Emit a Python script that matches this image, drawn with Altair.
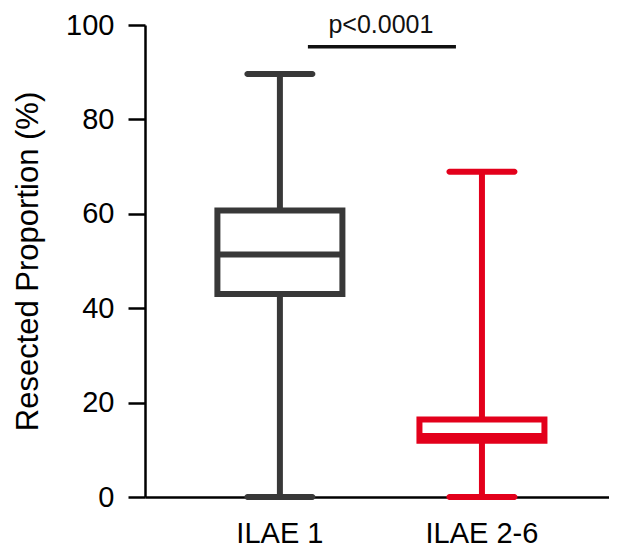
import altair as alt
import pandas as pd

groups = ["ILAE 1", "ILAE 2-6"]
mins = [0.0, 0.0]
q1s = [43.0, 11.9]
medians = [51.4, 12.9]
q3s = [60.7, 16.4]
maxs = [89.6, 68.9]
colors = ["#383838", "#e3001b"]

sig_start = ["ILAE 1"]
sig_end = ["ILAE 2-6"]
sig_y = [95.4]
sig_label = ["p<0.0001"]

y_ticks = [0, 20, 40, 60, 80, 100]

FONT = "Liberation Sans"

df = pd.DataFrame({"group": groups, "min": mins, "q1": q1s, "median": medians,
                   "q3": q3s, "max": maxs})
ann = pd.DataFrame({"group": sig_start, "group_end": sig_end, "y": sig_y, "label": sig_label})

x_scale = alt.Scale(domain=groups, paddingInner=0.3515, paddingOuter=0.324, align=0.53)
x_axis = alt.Axis(title=None, ticks=False, labelAngle=0, labelFontSize=29, labelPadding=22,
                  labelColor="black", labelFont=FONT, domainColor="black", domainWidth=2.5,
                  grid=False)
y_scale = alt.Scale(domain=[0, 100], nice=False)
y_axis = alt.Axis(values=y_ticks, title="Resected Proportion (%)", grid=False,
                  domainColor="black", domainWidth=2.5, tickColor="black", tickWidth=2.5,
                  tickSize=17, labelPadding=14, labelFontSize=29, labelColor="black",
                  labelFont=FONT, titleFont=FONT, titleFontSize=31, titleFontWeight="normal",
                  titleColor="black", titleX=-108, titleBaseline="alphabetic")
col_scale = alt.Scale(domain=groups, range=colors)

X = alt.X("group:N", scale=x_scale, axis=x_axis)
base = alt.Chart(df)

whisker = base.mark_rule(strokeWidth=6, opacity=1).encode(
    x=X,
    y=alt.Y("min:Q", scale=y_scale, axis=y_axis),
    y2="max:Q",
    stroke=alt.Stroke("group:N", scale=col_scale, legend=None),
)
box = base.mark_bar(width=125, strokeWidth=6, fill="white", opacity=1).encode(
    x=X,
    y=alt.Y("q1:Q", scale=y_scale),
    y2="q3:Q",
    stroke=alt.Stroke("group:N", scale=col_scale, legend=None),
)
median = base.mark_tick(size=125, thickness=6, opacity=1).encode(
    x=X, y=alt.Y("median:Q", scale=y_scale),
    color=alt.Color("group:N", scale=col_scale, legend=None),
)
cap_min = base.mark_tick(size=71, thickness=6, cornerRadius=3, opacity=1).encode(
    x=X, y=alt.Y("min:Q", scale=y_scale),
    color=alt.Color("group:N", scale=col_scale, legend=None),
)
cap_max = base.mark_tick(size=71, thickness=6, cornerRadius=3, opacity=1).encode(
    x=X, y=alt.Y("max:Q", scale=y_scale),
    color=alt.Color("group:N", scale=col_scale, legend=None),
)

sig_rule = alt.Chart(ann).mark_rule(strokeWidth=3.5, color="#111111", xOffset=28,
                                    x2Offset=-26).encode(
    x=X, x2="group_end:N", y=alt.Y("y:Q", scale=y_scale),
)
sig_text = alt.Chart(ann).mark_text(dx=101, dy=-14, baseline="alphabetic", align="center",
                                    fontSize=25, font=FONT, color="#111111").encode(
    x=X, y=alt.Y("y:Q", scale=y_scale), text="label:N",
)

chart = alt.layer(whisker, box, median, cap_min, cap_max, sig_rule, sig_text).properties(
    width=464, height=472,
    padding={"left": 137, "top": 17, "right": 0, "bottom": 51},
    autosize=alt.AutoSizeParams(type="none"),
).configure(font=FONT).configure_view(stroke=None)

chart.save("out.html", embed_options={"renderer": "svg", "actions": False})
